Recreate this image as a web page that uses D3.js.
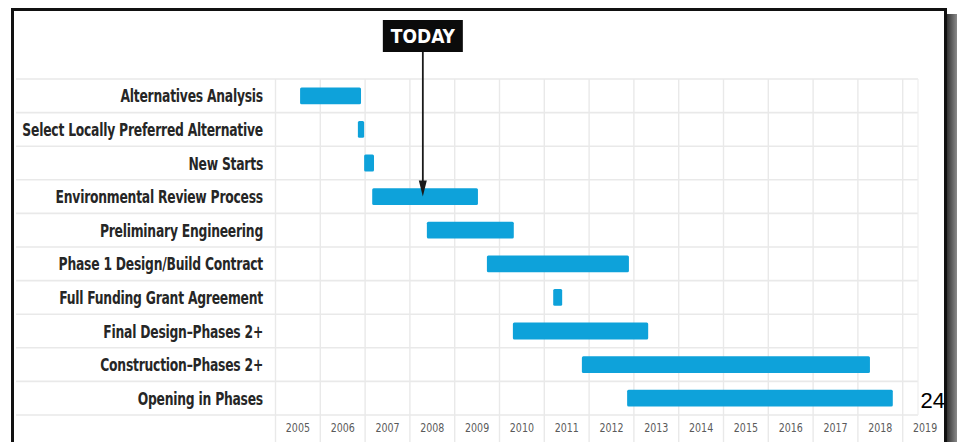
<!DOCTYPE html>
<html>
<head>
<meta charset="utf-8">
<script src="https://cdn.jsdelivr.net/npm/d3@7"></script>
<style>
  html, body { margin: 0; padding: 0; background: #fff; }
  svg { display: block; }
</style>
</head>
<body>
<svg id="chart" width="957" height="442"></svg>
<script>
// Project phases (top to bottom) with start / end in fractional years
const tasks = [
  "Alternatives Analysis",
  "Select Locally Preferred Alternative",
  "New Starts",
  "Environmental Review Process",
  "Preliminary Engineering",
  "Phase 1 Design/Build Contract",
  "Full Funding Grant Agreement",
  "Final Design\u2013Phases 2+",
  "Construction\u2013Phases 2+",
  "Opening in Phases"
];
const starts = [2005.56, 2006.85, 2006.99, 2007.17, 2008.39, 2009.73, 2011.21, 2010.31, 2011.85, 2012.86];
const ends   = [2006.92, 2006.99, 2007.21, 2009.53, 2010.33, 2012.90, 2011.41, 2013.33, 2018.28, 2018.79];
const years  = [2005, 2006, 2007, 2008, 2009, 2010, 2011, 2012, 2013, 2014, 2015, 2016, 2017, 2018, 2019];
const today = 2008.30;
const todayLabel = "TODAY";
const pageNumber = "24";

const svg = d3.select("#chart");
const W = 957, H = 442;

const plotLeft = 275, plotRight = 918, plotTop = 79, plotBottom = 415;
const x = d3.scaleLinear().domain([2005, 2020]).range([plotLeft, plotLeft + 15 * 44.8]);
const y = d3.scaleBand().domain(tasks).range([plotTop, plotBottom]).padding(0);

const narrow = "'Liberation Sans Narrow', 'DejaVu Sans Condensed', 'Liberation Sans', sans-serif";

// frame shadow on the right edge
const defs = svg.append("defs");
const grad = defs.append("linearGradient").attr("id", "shade").attr("x1", 0).attr("x2", 1).attr("y1", 0).attr("y2", 0);
grad.append("stop").attr("offset", 0).attr("stop-color", "#2a2a2a");
grad.append("stop").attr("offset", 1).attr("stop-color", "#8a8a8a");
svg.append("rect").attr("x", 946).attr("y", 14).attr("width", 11).attr("height", H - 14).attr("fill", "url(#shade)");

// slide frame
svg.append("rect")
  .attr("x", 12.5).attr("y", 9.5).attr("width", 933).attr("height", H + 20)
  .attr("fill", "#fff").attr("stroke", "#111").attr("stroke-width", 3);

// horizontal row separators
const rowLines = tasks.map(t => y(t)).concat([plotBottom]);
svg.append("g").selectAll("line").data(rowLines).join("line")
  .attr("x1", 16).attr("x2", plotRight)
  .attr("y1", d => d).attr("y2", d => d)
  .attr("stroke", "#e9e9e9").attr("stroke-width", 1.6);

// vertical year gridlines via an axis
const gridAxis = d3.axisBottom(x).tickValues(years).tickSize(H - plotTop).tickFormat("");
const gGrid = svg.append("g").attr("transform", `translate(0,${plotTop})`).call(gridAxis);
gGrid.select(".domain").remove();
gGrid.selectAll(".tick line").attr("stroke", "#e9e9e9").attr("stroke-width", 1.4);
svg.append("line").attr("x1", plotRight).attr("x2", plotRight).attr("y1", plotTop).attr("y2", plotBottom)
  .attr("stroke", "#efefef").attr("stroke-width", 1.2);

// year labels centred in each column, slightly condensed
const yearAxis = d3.axisBottom(x).tickValues(years.map(v => v + 0.5)).tickSize(0).tickPadding(0)
  .tickFormat(d => String(Math.floor(d)));
const gYears = svg.append("g").attr("transform", `translate(0,${plotBottom + 13})`).call(yearAxis);
gYears.select(".domain").remove();
gYears.selectAll("text")
  .attr("font-family", narrow).attr("font-size", 12).attr("fill", "#5a5a5a").attr("dy", "0.35em")
  .attr("transform", "scale(0.88,1)");

// bars
const data = tasks.map((t, i) => ({ task: t, start: starts[i], end: ends[i] }));
const barH = y.bandwidth() * 0.5;
svg.append("g").selectAll("rect").data(data).join("rect")
  .attr("x", d => x(d.start))
  .attr("y", d => y(d.task) + (y.bandwidth() - barH) / 2)
  .attr("width", d => x(d.end) - x(d.start))
  .attr("height", barH)
  .attr("rx", 1.5)
  .attr("fill", "#0ea2da");

// task labels, right aligned and condensed
const gLabels = svg.append("g");
const labels = gLabels.selectAll("text").data(tasks).join("text")
  .attr("x", 0)
  .attr("y", d => y(d) + y.bandwidth() / 2)
  .attr("dy", "0.36em")
  .attr("text-anchor", "end")
  .attr("font-family", narrow)
  .attr("font-weight", "bold")
  .attr("font-size", 18.5)
  .attr("letter-spacing", -0.3)
  .attr("fill", "#262626")
  .text(d => d);
const widest = d3.max(labels.nodes(), n => n.getComputedTextLength());
const k = 241 / widest;
gLabels.attr("transform", `translate(263,0) scale(${k},1)`);

// TODAY marker
const tx = x(today);
const envRow = tasks[3];
const tipY = y(envRow) + y.bandwidth() / 2;
svg.append("rect").attr("x", tx - 40).attr("y", 20).attr("width", 80).attr("height", 32).attr("fill", "#0b0b0b");
svg.append("text").attr("x", tx).attr("y", 36).attr("dy", "0.36em")
  .attr("text-anchor", "middle").attr("font-family", narrow)
  .attr("font-weight", "bold").attr("font-size", 19).attr("fill", "#fff")
  .text(todayLabel);
svg.append("line").attr("x1", tx).attr("x2", tx).attr("y1", 52).attr("y2", tipY - 10)
  .attr("stroke", "#1a1a1a").attr("stroke-width", 1.8);
svg.append("path")
  .attr("d", `M${tx - 4},${tipY - 16} L${tx + 4},${tipY - 16} L${tx},${tipY} Z`)
  .attr("fill", "#1a1a1a");

// page number
svg.append("text").attr("x", 945).attr("y", 408).attr("text-anchor", "end")
  .attr("font-family", "'Liberation Sans', Arial, sans-serif").attr("font-size", 22).attr("fill", "#000")
  .text(pageNumber);
</script>
</body>
</html>
